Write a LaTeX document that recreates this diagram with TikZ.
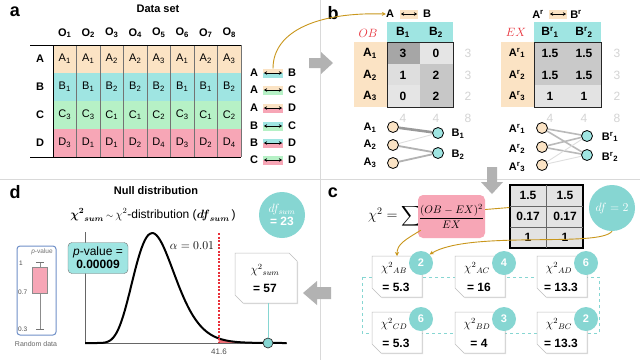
\documentclass[tikz,border=0pt]{standalone}
\usepackage{fontspec}
\setmainfont{Liberation Sans}
\usepackage{amsmath,amssymb}
\usetikzlibrary{arrows.meta,calc,shadows}
\pgfdeclarelayer{back}
\pgfdeclarelayer{bg}
\pgfsetlayers{back,bg,main}
\newcommand\fsz[1]{\fontsize{#1}{#1}\selectfont}
\definecolor{cpeach}{HTML}{FBE3C4}
\definecolor{ccyan}{HTML}{9FE5E2}
\definecolor{cgreen}{HTML}{B6F1C6}
\definecolor{cpink}{HTML}{F7A6B6}
\definecolor{cteal}{HTML}{86D6D2}
\definecolor{cgold}{HTML}{C9971C}
\definecolor{cred}{HTML}{E8303A}
\definecolor{cblue}{HTML}{7090C8}
\begin{document}
\begin{tikzpicture}[x=1pt,y=-1pt,
  every node/.style={inner sep=0pt},
  lbl/.style={font=\fsz{18}\bfseries},
  cell/.style={font=\fsz{11}},
  hd/.style={font=\fsz{11}\bfseries},
  hdb/.style={font=\fsz{12}\bfseries},
  sumn/.style={font=\fsz{12}, text=black!17},
  anode/.style={circle, draw=black, line width=0.8pt, fill=cpeach, minimum size=11pt},
  bnode/.style={circle, draw=black, line width=0.8pt, fill=ccyan, minimum size=11pt},
  dfc/.style={circle, fill=cteal, text=white, font=\fsz{11}\bfseries, minimum size=24pt},
  card/.style={fill=white, draw=black!25, line width=0.5pt, drop shadow={opacity=0.25,shadow xshift=1.2pt,shadow yshift=-1.2pt}},
  gbar/.style={fill=black!30, draw=none},
  dbl/.style={{Stealth[length=3pt,width=3.5pt]}-{Stealth[length=3pt,width=3.5pt]}, line width=0.7pt},
  gold/.style={draw=cgold, line width=0.9pt},
  w3/.style={draw=black!40, line width=2.6pt},
  w2/.style={draw=black!30, line width=1.8pt},
  w1/.style={draw=black!13, line width=0.9pt},
  w15/.style={draw=black!27, line width=1.6pt}]
\useasboundingbox (0,0) rectangle (640,360);
\begin{pgfonlayer}{back}
\fill[white] (0,0) rectangle (640,360);
\end{pgfonlayer}
% separators
\draw[black!15, line width=0.8pt] (0,179) -- (640,179);
\draw[black!15, line width=0.8pt] (320,0) -- (320,360);

% ================= panel a =================
\node[lbl] (la) at (15,12) {a};
\node[hd] (ta) at (158,9) {Data set};
\foreach \L/\C/\vals [count=\i] in {A/cpeach/{1,1,2,2,3,1,2,3},B/ccyan/{1,1,2,2,2,1,1,2},C/cgreen/{3,3,1,1,2,3,1,2},D/cpink/{3,1,1,2,4,3,2,4}}{
  \fill[\C] (53,{45+(\i-1)*28}) rectangle (241,{45+\i*28});
  \node[hd] (row\L) at (40,{59+(\i-1)*28}) {\L};
  \foreach \v [count=\j] in \vals {
    \node[cell] (a\L\j) at ({53+(\j-0.5)*23.5},{59+(\i-1)*28}) {\L\textsubscript{\v}};
  }
}
\foreach \j in {1,...,7} \draw[black!55, line width=0.6pt] ({53+\j*23.5},45) -- ({53+\j*23.5},157);
\draw[black!55, line width=0.6pt] (241,45) -- (241,157);
\foreach \j in {1,...,8} \node[hd] (o\j) at ({53+(\j-0.5)*23.5},33) {O\textsubscript{\j}};
\draw[black, line width=1pt] (30,45) -- (241,45);
\draw[black, line width=1pt] (30,157) -- (241,157);
\draw[black, line width=1pt] (53,45) -- (53,157);

% pairs
\foreach \L/\R/\CL/\CR/\y [count=\k] in {A/B/cpeach/ccyan/73,A/C/cpeach/cgreen/90,A/D/cpeach/cpink/108,B/C/ccyan/cgreen/126,B/D/ccyan/cpink/143,C/D/cgreen/cpink/160}{
  \fill[\CL] (263,{\y-4.5}) rectangle (283,\y);
  \fill[\CR] (263,\y) rectangle (283,{\y+4.5});
  \node[hd] (pl\k) at (254,\y) {\L};
  \node[hd] (pr\k) at (292,\y) {\R};
  \coordinate (ps\k) at (264,\y);
  \coordinate (pe\k) at (282,\y);
  \draw[dbl] (ps\k) -- (pe\k);
}
\coordinate (gstart) at (273,68.5);

% gray arrow a->b
\fill[gbar] (309,58) -- (321,58) -- (321,52) -- (333,63) -- (321,74) -- (321,68) -- (309,68) -- cycle;

% ================= panel b =================
\node[lbl] (lb) at (333,13) {b};
% header left
\fill[cpeach] (400,9.5) rectangle (418,18.5);
\node[hd] (hA) at (390,14) {A};
\node[hd] (hB) at (427,14) {B};
\coordinate (hs) at (401,14); \coordinate (he) at (417,14);
\draw[dbl] (hs) -- (he);
\draw[gold, -{Stealth[length=4pt,width=4pt]}] (gstart) .. controls (273,30) and (320,12) .. (hA.west);
% left table
\node[font=\fsz{13}, text=cred] (ob) at (368,33) {$OB$};
\fill[ccyan] (387,22) rectangle (453,42);
\fill[cpeach] (354,42) rectangle (387,107);
\node[hdb] (ob1) at (403,32) {B\textsubscript{1}};
\node[hdb] (ob2) at (436,32) {B\textsubscript{2}};
\fill[black!35] (387,42) rectangle (420,63.7);
\fill[black!10] (420,42) rectangle (453,63.7);
\fill[black!13] (387,63.7) rectangle (420,85.3);
\fill[black!22] (420,63.7) rectangle (453,85.3);
\fill[black!10] (387,85.3) rectangle (420,107);
\fill[black!22] (420,85.3) rectangle (453,107);
\draw[black!85, line width=1pt] (387,42) rectangle (453,107);
\foreach \r/\v/\w/\yy [count=\k] in {1/3/0/53,2/1/2/75,3/0/2/96}{
  \node[hdb] (oa\k) at (370,\yy) {A\textsubscript{\r}};
  \node[hdb] (ov\k1) at (403,\yy) {\v};
  \node[hdb] (ov\k2) at (436,\yy) {\w};
}
\node[sumn] (os1) at (468,53) {3};
\node[sumn] (os2) at (468,75) {3};
\node[sumn] (os3) at (468,96) {2};
\node[sumn] (oc1) at (403,118) {4};
\node[sumn] (oc2) at (436,118) {4};
\node[sumn] (oc3) at (468,118) {8};
% left graph
\node[anode] (ga1) at (393,127) {};
\node[anode] (ga2) at (393,145) {};
\node[anode] (ga3) at (393,163) {};
\node[bnode] (gb1) at (438,133) {};
\node[bnode] (gb2) at (438,153) {};
\node[hd] (gl1) at (370,128) {A\textsubscript{1}};
\node[hd] (gl2) at (370,145) {A\textsubscript{2}};
\node[hd] (gl3) at (370,163) {A\textsubscript{3}};
\node[hd] (gm1) at (458,134) {B\textsubscript{1}};
\node[hd] (gm2) at (458,155) {B\textsubscript{2}};
\begin{pgfonlayer}{bg}
\draw[w3] (ga1) -- (gb1);
\draw[w1] (ga2) -- (gb1);
\draw[w2] (ga2) -- (gb2);
\draw[w2] (ga3) -- (gb2);
\end{pgfonlayer}

% header right
\fill[cpeach] (549,9.5) rectangle (567,18.5);
\node[hd] (hAr) at (538,14) {A\textsuperscript{r}};
\node[hd] (hBr) at (576,14) {B\textsuperscript{r}};
\coordinate (hrs) at (550,14); \coordinate (hre) at (566,14);
\draw[dbl] (hrs) -- (hre);
% right table
\node[font=\fsz{13}, text=cred] (ex) at (516,32) {$EX$};
\fill[ccyan] (534,22) rectangle (601,42);
\fill[cpeach] (501,42) rectangle (534,107);
\node[hdb] (eb1) at (550,32) {B\textsuperscript{r}\textsubscript{1}};
\node[hdb] (eb2) at (584,32) {B\textsuperscript{r}\textsubscript{2}};
\fill[black!21] (534,42) rectangle (601,85.3);
\fill[black!11] (534,85.3) rectangle (601,107);
\draw[black!85, line width=1pt] (534,42) rectangle (601,107);
\foreach \r/\v/\yy [count=\k] in {1/1.5/53,2/1.5/75,3/1/96}{
  \node[hd] (ea\k) at (517,\yy) {A\textsuperscript{r}\textsubscript{\r}};
  \node[hdb] (ev\k1) at (550,\yy) {\v};
  \node[hdb] (ev\k2) at (584,\yy) {\v};
}
\node[sumn] (es1) at (617,53) {3};
\node[sumn] (es2) at (617,75) {3};
\node[sumn] (es3) at (617,96) {2};
\node[sumn] (ec1) at (550,118) {4};
\node[sumn] (ec2) at (584,118) {4};
\node[sumn] (ec3) at (617,118) {8};
% right graph
\node[anode] (ha1) at (542,128) {};
\node[anode] (ha2) at (542,147) {};
\node[anode] (ha3) at (542,165) {};
\node[bnode] (hb1) at (587,136) {};
\node[bnode] (hb2) at (587,155) {};
\node[hd] (hl1) at (517,129) {A\textsuperscript{r}\textsubscript{1}};
\node[hd] (hl2) at (517,149) {A\textsuperscript{r}\textsubscript{2}};
\node[hd] (hl3) at (517,167) {A\textsuperscript{r}\textsubscript{3}};
\node[hd] (hm1) at (610,137) {B\textsuperscript{r}\textsubscript{1}};
\node[hd] (hm2) at (610,157) {B\textsuperscript{r}\textsubscript{2}};
\begin{pgfonlayer}{bg}
\draw[w15] (ha1) -- (hb1);
\draw[w15] (ha1) -- (hb2);
\draw[w15] (ha2) -- (hb1);
\draw[w15] (ha2) -- (hb2);
\draw[w1] (ha3) -- (hb1);
\draw[w1] (ha3) -- (hb2);
\end{pgfonlayer}

% gray arrow b->c
\fill[gbar] (487,167) -- (497,167) -- (497,182) -- (503,182) -- (492,194) -- (481,182) -- (487,182) -- cycle;

% ================= panel c =================
\node[lbl] (lc) at (333,193) {c};
\node[font=\fsz{14}] (chieq) at (395,216) {$\chi^2 = \displaystyle\sum$};
\node[fill=cpink, rounded corners=5pt, minimum width=67pt, minimum height=43pt, font=\fsz{11}] (frac) at (451.5,216.5) {$\dfrac{(OB-EX)^2}{EX}$};
\node[draw=black, line width=1.2pt, fill=black!11, minimum width=73pt, minimum height=63pt] (ctab) at (546.5,216.5) {};
\draw[black!60, line width=0.8pt] (546.5,185) -- (546.5,248);
\draw[black!60, line width=0.8pt] (510,206) -- (583,206);
\draw[black!60, line width=0.8pt] (510,227) -- (583,227);
\foreach \v/\yy [count=\k] in {1.5/195.5,0.17/216.5,1/237.5}{
  \node[hdb] (ct\k1) at (528,\yy) {\v};
  \node[hdb] (ct\k2) at (565,\yy) {\v};
}
\node[circle, fill=cteal, minimum size=46pt, text=white, font=\fsz{13}] (dftwo) at (612,208) {$df = 2$};
\draw[gold] ([yshift=7pt]frac.east) -- ([yshift=9pt]ctab.west);

% dashed frame
\draw[cteal, dashed, line width=0.9pt] (362,277) rectangle (599,333);
\foreach \x/\y/\lab/\val/\df [count=\k] in {372/256/AB/5.3/2,455/256/AC/16/4,537/256/AD/13.3/6,372/312/CD/5.3/6,455/312/BD/4/3,537/312/BC/13.3/2}{
  \filldraw[card] (\x,\y) -- ++(50,0) -- ++(0,41) -- ++(-41,0) -- ++(-9,-9) -- cycle;
  \node[font=\fsz{12}] (cx\k) at ({\x+22},{\y+12}) {$\chi^{2}{}_{\lab}$};
  \node[font=\fsz{12}\bfseries] (cv\k) at ({\x+24},{\y+31}) {= \val};
  \node[dfc] (cd\k) at ({\x+49},{\y+7}) {\df};
}
\coordinate (cab) at (397,256);
\draw[gold, -{Stealth[length=4pt,width=4pt]}] ([xshift=3pt,yshift=8pt]frac.south west) .. controls (405,240) and (397,244) .. (cab);
\draw[gold, -{Stealth[length=4pt,width=4pt]}] (dftwo.south) .. controls (600,248) and (470,230) .. (cd1.north east);

% gray arrow c->d
\fill[gbar] (331,287) -- (317,287) -- (317,281) -- (303,293) -- (317,305) -- (317,299) -- (331,299) -- cycle;

% ================= panel d =================
\node[lbl] (ld) at (15,192) {d};
\node[hd] (td) at (156,191) {Null distribution};
\node[font=\fsz{12}] (sub) at (153,215) {$\boldsymbol{\chi^2}_{\boldsymbol{sum}}$\,{\fsz{9}$\sim$}\,$\chi^2$-distribution ($\boldsymbol{df}_{\boldsymbol{sum}}$\,)};
\node[circle, fill=cteal, minimum size=46pt, text=white, align=center, font=\fsz{12}] (dfsum) at (282,215) {$df_{sum}$\\[1pt]\bfseries = 23};
% axes
\draw[black!60, line width=0.8pt] (85,232) -- (85,343);
\fill[cred!70] (219,343) -- plot[domain=41.6:63, samples=30] ({85+3.2*\x},{343-110*exp(10.5*ln(\x/21)-(\x-21)/2)}) -- (287,343) -- cycle;
\draw[black!60, line width=1pt] (85,343) -- (287,343);
\draw[line width=2pt] (85,343) -- plot[domain=1:63, samples=120] ({85+3.2*\x},{343-110*exp(10.5*ln(\x/21)-(\x-21)/2)});
\coordinate (rt) at (219,233); \coordinate (rb) at (219,343);
\draw[cred, line width=2.2pt, dash pattern=on 2pt off 1.5pt] (rt) -- (rb);
\node[font=\fsz{12}] (alpha) at (192,246) {$\alpha = 0.01$};
\node[font=\fsz{8}, text=black!70] (crit) at (219,352) {41.6};
% card
\filldraw[card] (235,253) -- (289,253) -- (297,261) -- (297,303) -- (243,303) -- (235,295) -- cycle;
\node[font=\fsz{12}] (csum) at (265,270) {$\chi^{2}{}_{sum}$};
\node[font=\fsz{12}\bfseries] (c57) at (265,288) {= 57};
\coordinate (cbot) at (268,303);
\node[circle, draw=black!80, line width=0.7pt, fill=cteal, minimum size=10pt] (obs) at (268,343) {};
\draw[cteal, line width=1pt] (cbot) -- (obs);
% p-value
\node[draw=black!55, fill=ccyan, rounded corners=4pt, minimum width=60pt, minimum height=31pt, align=center, font=\fsz{12}] (pval) at (98,258) {\textit{p}-value =\\[1pt]\bfseries 0.00009};
% boxplot
\draw[cblue, line width=1pt, rounded corners=3pt] (17,246) rectangle (56,335);
\node[font=\fsz{6.5}, text=black!55] (bpt) at (42,252) {\textit{p}-value};
\node[font=\fsz{6.5}, text=black!70, anchor=west] (t1) at (19,263) {1};
\node[font=\fsz{6.5}, text=black!70, anchor=west] (t07) at (18,292) {0.7};
\node[font=\fsz{6.5}, text=black!70, anchor=west] (t03) at (18,329) {0.3};
\draw[black!45, line width=0.5pt] (40,262) -- (40,329);
\draw[black!55, line width=0.6pt] (36,262) -- (44,262);
\draw[black!55, line width=0.6pt] (36,329) -- (44,329);
\filldraw[fill=cpink, draw=black!45, line width=0.5pt] (32,267) rectangle (47,293);
\node[font=\fsz{7}, text=black!60] (rd) at (36,344) {Random data};
\end{tikzpicture}
\end{document}
